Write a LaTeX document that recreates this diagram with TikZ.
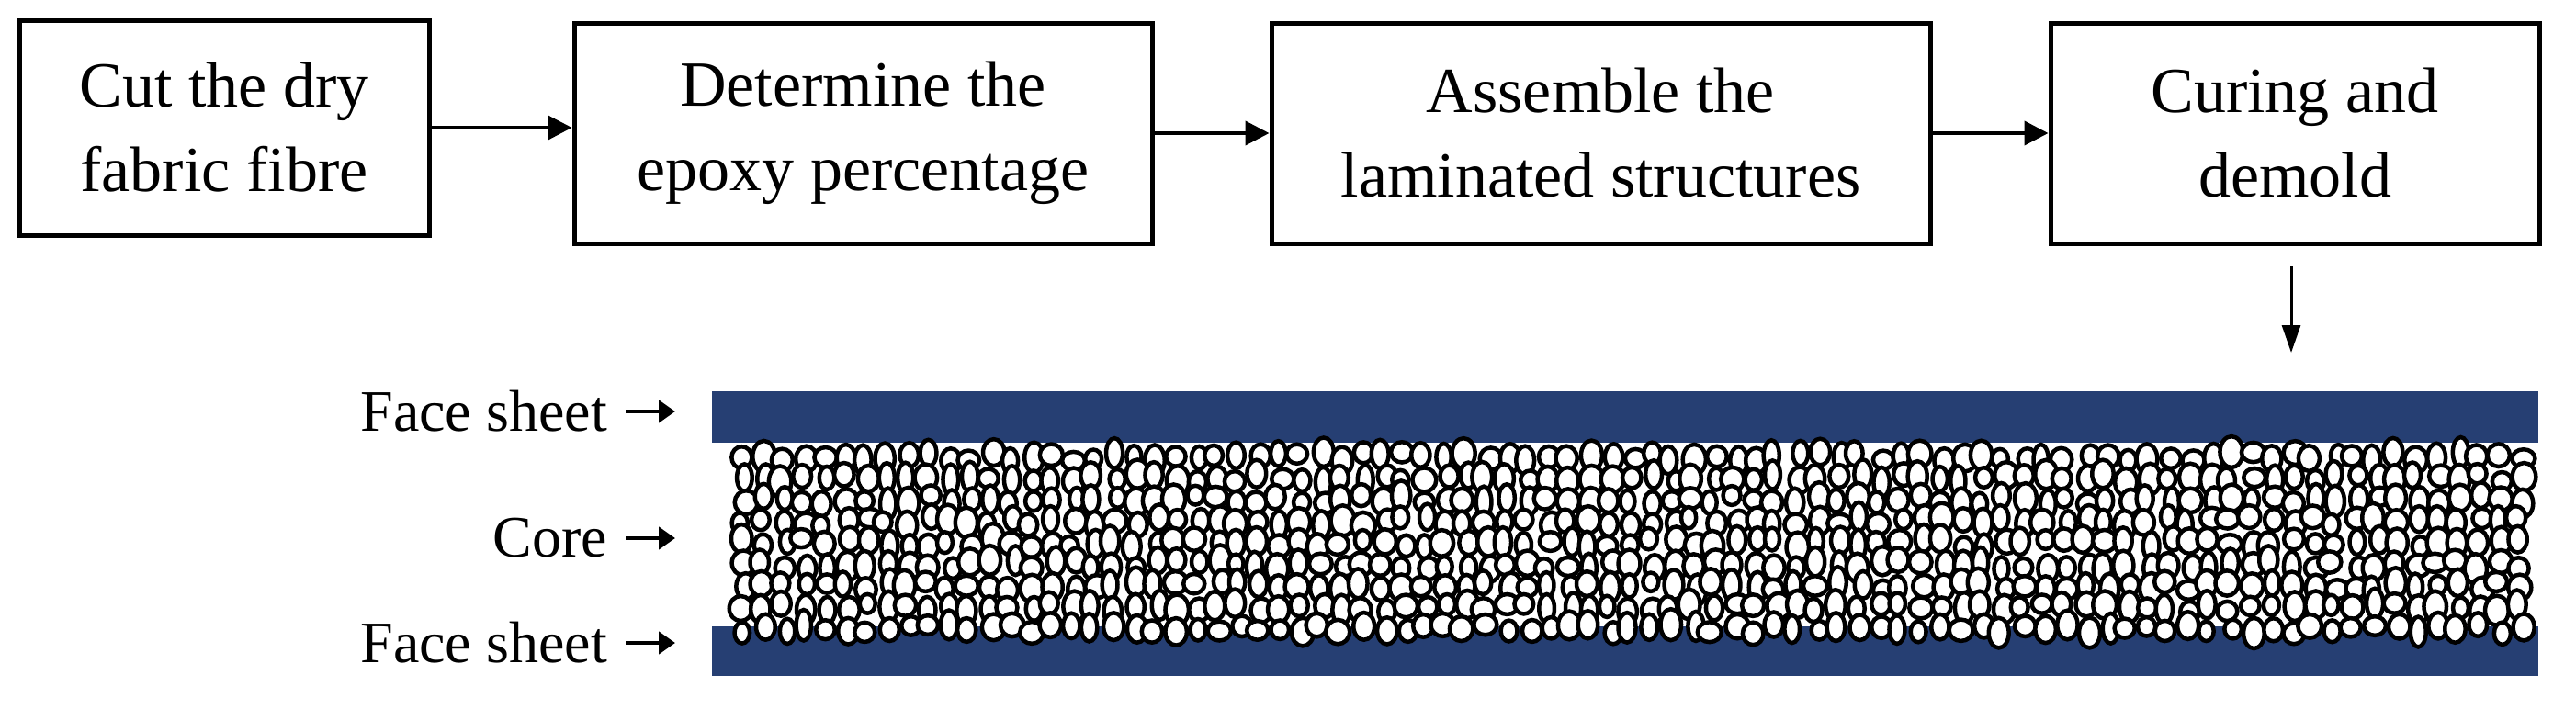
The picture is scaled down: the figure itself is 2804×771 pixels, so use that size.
\documentclass[tikz,border=0pt]{standalone}
\usepackage{fontspec}
\setmainfont{Liberation Serif}
\usetikzlibrary{arrows.meta}
\definecolor{sheet}{HTML}{263F73}
\begin{document}
\begin{tikzpicture}[x=1pt,y=-1pt,
  stepbox/.style={draw,line width=5pt,align=center,font=\fontsize{70}{92}\selectfont,inner sep=0pt},
  flow/.style={line width=4pt,-{Triangle[length=26pt,width=26pt]}},
  lab/.style={font=\fontsize{64}{70}\selectfont,anchor=east,inner sep=0pt},
  lar/.style={line width=4.5pt,-{Triangle[length=18pt,width=24pt]}}]
\useasboundingbox (0,0) rectangle (2804,771);
\node[stepbox,minimum width=446pt,minimum height=234pt] (b1) at (244,139) {Cut the dry\\fabric fibre};
\node[stepbox,minimum width=629pt,minimum height=240pt] (b2) at (939.5,145) {Determine the\\epoxy percentage};
\node[stepbox,minimum width=717pt,minimum height=240pt] (b3) at (1742.5,145) {Assemble the\\laminated structures};
\node[stepbox,minimum width=532pt,minimum height=240pt] (b4) at (2498,145) {Curing and\\demold};
\draw[flow] (b1.east) -- (b1.east -| b2.west);
\draw[flow] (b2.east) -- (b2.east -| b3.west);
\draw[flow] (b3.east) -- (b3.east -| b4.west);
\coordinate (d1) at (2494,290);
\coordinate (d2) at (2494,384);
\draw[line width=3pt,-{Triangle[length=30pt,width=20pt]}] (d1) -- (d2);
\fill[sheet] (775,426) rectangle (2763,482);
\fill[sheet] (775,682) rectangle (2763,736);
\pgfmathsetseed{7}
\foreach \j in {0,...,8}{
 \foreach \i in {0,...,86}{
  \pgfmathsetmacro\cx{808+\i*22.5+5*rand}
  \pgfmathsetmacro\cy{497+\j*23.5+5*rand}
  \pgfmathsetmacro\rx{10.5+2.5*rand}
  \pgfmathsetmacro\ry{13.5+3.5*rand}
  \draw[line width=4.5pt,fill=white] (\cx,\cy) ellipse [x radius=\rx, y radius=\ry];
 }}
\node[lab] (f1) at (661,448) {Face sheet};
\node[lab] (c1) at (661,586) {Core};
\node[lab] (f2) at (661,700) {Face sheet};
\coordinate (a1) at (735,448); \coordinate (a2) at (735,586); \coordinate (a3) at (735,700);
\draw[lar] ([xshift=20pt]f1.east) -- (a1);
\draw[lar] ([xshift=20pt]c1.east) -- (a2);
\draw[lar] ([xshift=20pt]f2.east) -- (a3);
\end{tikzpicture}
\end{document}
